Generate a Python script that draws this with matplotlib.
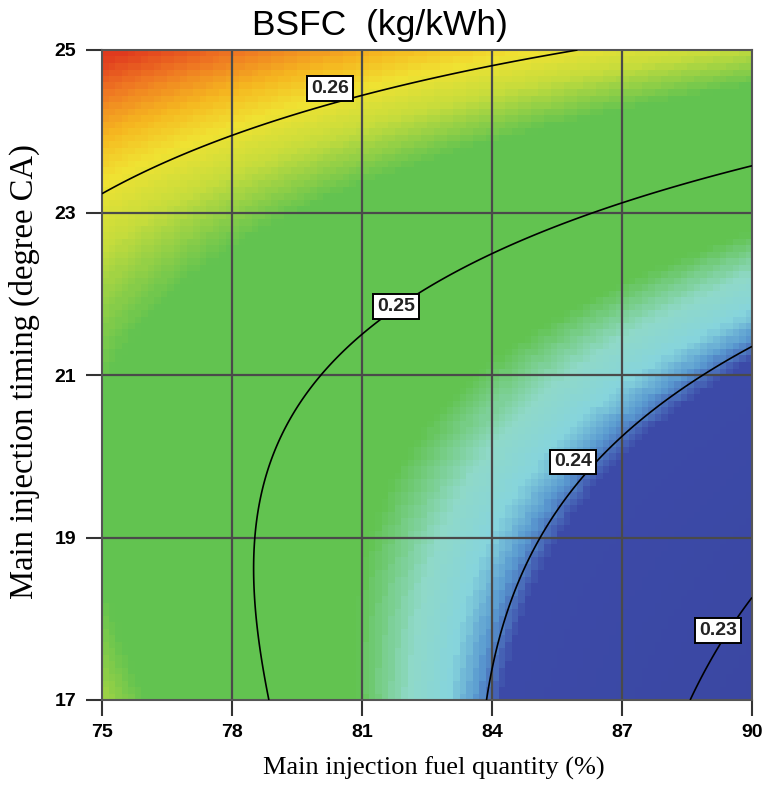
import numpy as np
import matplotlib
matplotlib.use("Agg")
import matplotlib.pyplot as plt
from matplotlib.colors import LinearSegmentedColormap

# ---- data ----
x_ticks = [75, 78, 81, 84, 87, 90]
y_ticks = [17, 19, 21, 23, 25]
levels = [0.23, 0.24, 0.25, 0.26]

# points (x, y), one list per level
c26_x = [75.0, 75.73, 76.88, 77.99, 79.57, 80.8, 81.88, 84.0, 85.95]
c26_y = [23.26, 23.48, 23.79, 24.02, 24.30, 24.46, 24.59, 24.81, 24.98]
c25_x = [78.78, 78.55, 78.67, 79.38, 80.39, 81.03, 82.58, 84.07, 87.1, 90.0]
c25_y = [17.0, 18.27, 19.0, 20.04, 20.98, 21.35, 21.96, 22.42, 23.06, 23.51]
c24_x = [83.73, 84.0, 84.81, 85.57, 86.5, 87.08, 88.57, 90.0]
c24_y = [17.0, 17.82, 18.97, 19.58, 20.1, 20.38, 20.94, 21.37]
c23_x = [88.7, 89.1, 90.0]
c23_y = [17.0, 17.47, 18.28]
# colour-based estimates at the four corners
corner_x = [75.0, 75.0, 90.0, 90.0]
corner_y = [25.0, 17.0, 25.0, 17.0]
corner_v = [0.2725, 0.2575, 0.2565, 0.222]
# contour label centres (level -> x, y)
label_pos = {"0.23": (89.22, 17.86), "0.24": (85.87, 19.93),
             "0.25": (81.78, 21.84), "0.26": (80.26, 24.53)}

# ---- smooth response surface fitted to the readings ----
px = np.array(c26_x + c25_x + c24_x + c23_x + corner_x)
py = np.array(c26_y + c25_y + c24_y + c23_y + corner_y)
pv = np.array([0.26] * len(c26_x) + [0.25] * len(c25_x) + [0.24] * len(c24_x)
              + [0.23] * len(c23_x) + corner_v)
w = np.array([1.0] * len(c26_x) + [1.0] * len(c25_x) + [1.0] * len(c24_x)
             + [2.0] * len(c23_x) + [0.4] * len(corner_x))
w[0] = 3.0  # left end of the 0.26 line is read precisely

def design(x, y):
    u = (x - 82.5) / 7.5
    v = (y - 21.0) / 4.0
    return np.column_stack([np.ones_like(u), u, v, u * u, v * v, u * v,
                            u ** 3, u * u * v, u * v * v, v ** 3])

coef, *_ = np.linalg.lstsq(design(px, py) * w[:, None], pv * w, rcond=None)

n = 100
xe = np.linspace(75, 90, n + 1)
ye = np.linspace(17, 25, n + 1)
xc = 0.5 * (xe[:-1] + xe[1:])
yc = 0.5 * (ye[:-1] + ye[1:])
XC, YC = np.meshgrid(xc, yc)
Z = (design(XC.ravel(), YC.ravel()) @ coef).reshape(XC.shape)

xf = np.linspace(75, 90, 300)
yf = np.linspace(17, 25, 300)
XF, YF = np.meshgrid(xf, yf)
ZF = (design(XF.ravel(), YF.ravel()) @ coef).reshape(XF.shape)

# ---- colormap ----
vmin, vmax = 0.222, 0.272
anchors = [
    (0.222, "#3a46a0"), (0.2393, "#3c4aa8"), (0.2405, "#5a9ad0"),
    (0.2418, "#86d4dc"), (0.2436, "#8fd9c8"), (0.2460, "#62c350"),
    (0.2555, "#62c350"), (0.2583, "#c6dc3c"), (0.2605, "#f0e232"),
    (0.2623, "#f5b820"), (0.2643, "#ef7a22"), (0.2663, "#e03a1e"),
    (0.2720, "#dc341c"),
]
cmap = LinearSegmentedColormap.from_list(
    "bsfc", [((v - vmin) / (vmax - vmin), c) for v, c in anchors])

fig = plt.figure(figsize=(7.64, 7.86), dpi=100)
ax = fig.add_axes([102 / 764, 86 / 786, 650 / 764, 650 / 786])
ax.pcolormesh(xe, ye, Z, cmap=cmap, vmin=vmin, vmax=vmax, shading="flat")

for xv in x_ticks[1:-1]:
    ax.axvline(xv, color="#4a4a4a", lw=1.6, zorder=2)
for yv in y_ticks[1:-1]:
    ax.axhline(yv, color="#4a4a4a", lw=1.6, zorder=2)

cs = ax.contour(XF, YF, ZF, levels=levels, colors="black", linewidths=1.2, zorder=3)
labs = ax.clabel(cs, levels, inline=False, fmt="%.2f",
                 manual=list(label_pos.values()), fontsize=14)
for t in labs:
    t.set_rotation(0)
    t.set_position(label_pos[t.get_text()])
    t.set_fontweight("bold")
    t.set_fontfamily("Liberation Sans")
    t.set_color("#222222")
    t.set_bbox(dict(boxstyle="square,pad=0.2", fc="white", ec="black", lw=1.4))
    t.set_zorder(5)

ax.set_xlim(75, 90)
ax.set_ylim(17, 25)
ax.set_xticks(x_ticks)
ax.set_yticks(y_ticks)
ax.tick_params(axis="both", direction="out", length=11.5, width=1.5, color="#333333",
               labelsize=14)
ax.tick_params(axis="x", pad=6)
ax.tick_params(axis="y", pad=7)
for lab in ax.get_xticklabels() + ax.get_yticklabels():
    lab.set_fontfamily("Liberation Sans")
    lab.set_fontweight("bold")
for sp in ax.spines.values():
    sp.set_color("#555555")
    sp.set_linewidth(1.5)

ax.set_xlabel("Main injection fuel quantity (%)", family="Liberation Serif", fontsize=19)
ax.xaxis.set_label_coords(0.51, -0.1154)
ax.xaxis.label.set_va("baseline")
ax.set_ylabel("Main injection timing (degree CA)", family="Liberation Serif", fontsize=23.5)
ax.yaxis.set_label_coords(-0.12, 0.5054)
ax.yaxis.label.set_va("center")
fig.text(0.497, 1 - 35 / 786, "BSFC  (kg/kWh)", ha="center", va="baseline",
         family="Liberation Sans", fontsize=25.5)

fig.savefig("out.png", dpi=100)
